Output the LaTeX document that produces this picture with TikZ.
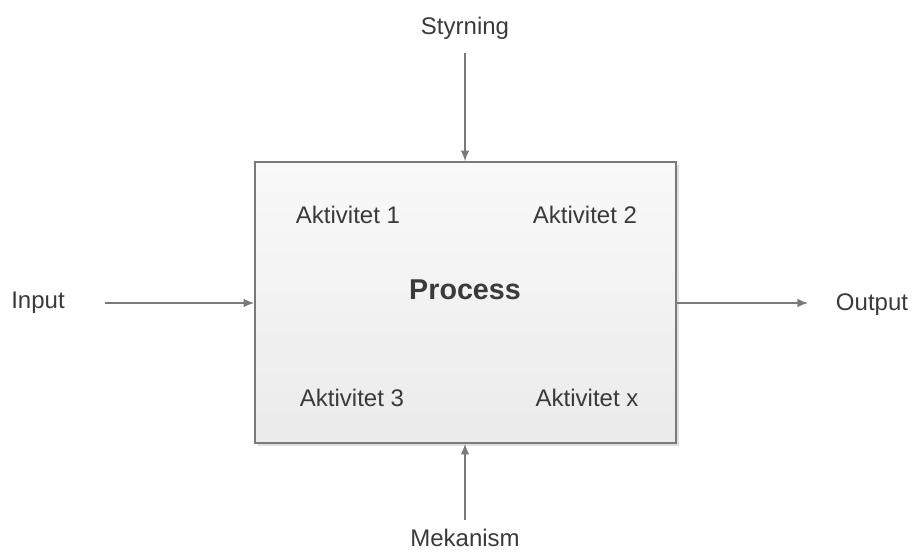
\documentclass[tikz,border=0pt]{standalone}
\usepackage{fontspec}
\setmainfont{Liberation Sans}
\usepackage{tikz}
\usetikzlibrary{arrows.meta,positioning}
\definecolor{txtgray}{HTML}{3A3A3A}
\definecolor{linegray}{HTML}{7A7A7A}
\definecolor{boxtop}{HTML}{F9F9F9}
\definecolor{boxbot}{HTML}{EBEBEB}
\tikzset{
  label/.style={text=txtgray, font=\fontsize{18}{21}\selectfont},
  flow/.style={draw=linegray, line width=1.1pt, -{Latex[length=8pt,width=6.5pt]}},
}

\begin{document}
\begin{tikzpicture}[x=0.75pt, y=-0.75pt]
\useasboundingbox (0,0) rectangle (916,552);
% Shadow and process box
\fill[gray!25] (258,165) rectangle (679,446);
\node[draw=linegray, line width=1.2pt, top color=boxtop, bottom color=boxbot,
      minimum width=421*0.75pt, minimum height=281*0.75pt, inner sep=0pt]
  (proc) at (465.5,302.5) {};
\node[label, font=\fontsize{21.5}{25}\selectfont\bfseries] (name) at (465,290) {Process};
% Activities
\node[label] (akt1) at (348,215) {Aktivitet 1};
\node[label] (akt2) at (585,215) {Aktivitet 2};
\node[label] (akt3) at (352,398) {Aktivitet 3};
\node[label] (aktx) at (587,398) {Aktivitet x};
% Outer labels
\node[label] (styr) at (465,28) {Styrning};
\node[label] (mek) at (465,538) {Mekanism};
\node[label] (in) at (38,303) {Input};
\node[label] (out) at (872,305) {Output};
% Arrows into and out of the box
\coordinate (styrend) at (465,53);
\coordinate (mekend) at (465,520);
\coordinate (inend) at (105,303);
\coordinate (outend) at (808,303);
\draw[flow] (styrend) -- (proc.north -| styrend);
\draw[flow] (mekend) -- (proc.south -| mekend);
\draw[flow] (inend) -- (proc.west |- inend);
\draw[flow] (proc.east |- outend) -- (outend);
\end{tikzpicture}
\end{document}
